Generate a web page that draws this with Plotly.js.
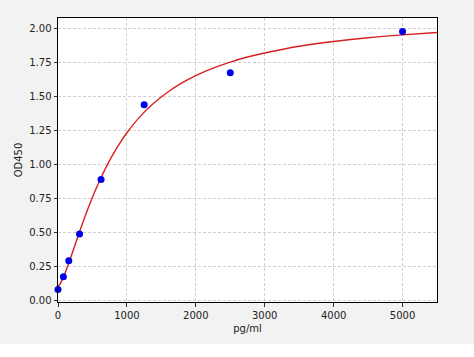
<!DOCTYPE html>
<html>
<head>
<meta charset="utf-8">
<script src="https://cdn.plot.ly/plotly-3.0.1.min.js"></script>
<style>
html,body{margin:0;padding:0;background:#ffffff;}
#chart{width:474px;height:344px;}
</style>
</head>
<body>
<div id="chart"></div>
<script>
// Standard points
var concentrations = [0, 78.125, 156.25, 312.5, 625, 1250, 2500, 5000];
var odValues = [0.083, 0.176, 0.294, 0.49, 0.892, 1.441, 1.676, 1.98];

// Fitted curve
var curveX = [0, 25, 50, 100, 150, 200, 300, 400, 500, 600, 700, 800, 900, 1000, 1200, 1400, 1600, 1800, 2000, 2250, 2500, 2750, 3000, 3500, 4000, 4500, 5000, 5500];
var curveY = [0.105, 0.119, 0.142, 0.200, 0.268, 0.340, 0.488, 0.630, 0.761, 0.879, 0.984, 1.078, 1.161, 1.235, 1.359, 1.457, 1.537, 1.602, 1.655, 1.710, 1.755, 1.792, 1.822, 1.871, 1.906, 1.934, 1.955, 1.972];

var xTicks = [0, 1000, 2000, 3000, 4000, 5000];
var yTicks = [0, 0.25, 0.5, 0.75, 1.0, 1.25, 1.5, 1.75, 2.0];

var font = {family: 'DejaVu Sans, sans-serif', size: 10, color: '#222222'};

var traces = [
  {
    x: curveX, y: curveY, type: 'scatter', mode: 'lines',
    line: {color: '#d62020', width: 1.4, shape: 'spline', smoothing: 0.8},
    hoverinfo: 'skip'
  },
  {
    x: concentrations, y: odValues, type: 'scatter', mode: 'markers',
    marker: {color: '#0000ee', size: 7},
    cliponaxis: false
  }
];

var layout = {
  width: 474, height: 344,
  paper_bgcolor: '#f2f2f2',
  plot_bgcolor: '#ffffff',
  showlegend: false,
  margin: {l: 58, r: 37, t: 18, b: 42, pad: 0},
  font: font,
  xaxis: {
    range: [0, 5500],
    tickvals: xTicks,
    ticktext: xTicks.map(function(v){return String(v);}),
    ticks: 'outside', ticklen: 3.5, tickwidth: 0.8, tickcolor: '#000',
    showline: true, linecolor: '#000', linewidth: 1, mirror: true,
    showgrid: true, gridcolor: '#c4c4c4', gridwidth: 0.8, griddash: '3px,2px',
    zeroline: false,
    tickfont: font,
    title: {text: 'pg/ml', font: font, standoff: 5}
  },
  yaxis: {
    range: [-0.0096, 2.079],
    tickvals: yTicks,
    ticktext: yTicks.map(function(v){return v.toFixed(2);}),
    ticks: 'outside', ticklen: 3.5, tickwidth: 0.8, tickcolor: '#000',
    showline: true, linecolor: '#000', linewidth: 1, mirror: true,
    showgrid: true, gridcolor: '#c4c4c4', gridwidth: 0.8, griddash: '3px,2px',
    zeroline: false,
    tickfont: font,
    title: {text: 'OD450', font: font, standoff: 4}
  }
};

Plotly.newPlot('chart', traces, layout, {displayModeBar: false, staticPlot: true});
</script>
</body>
</html>
